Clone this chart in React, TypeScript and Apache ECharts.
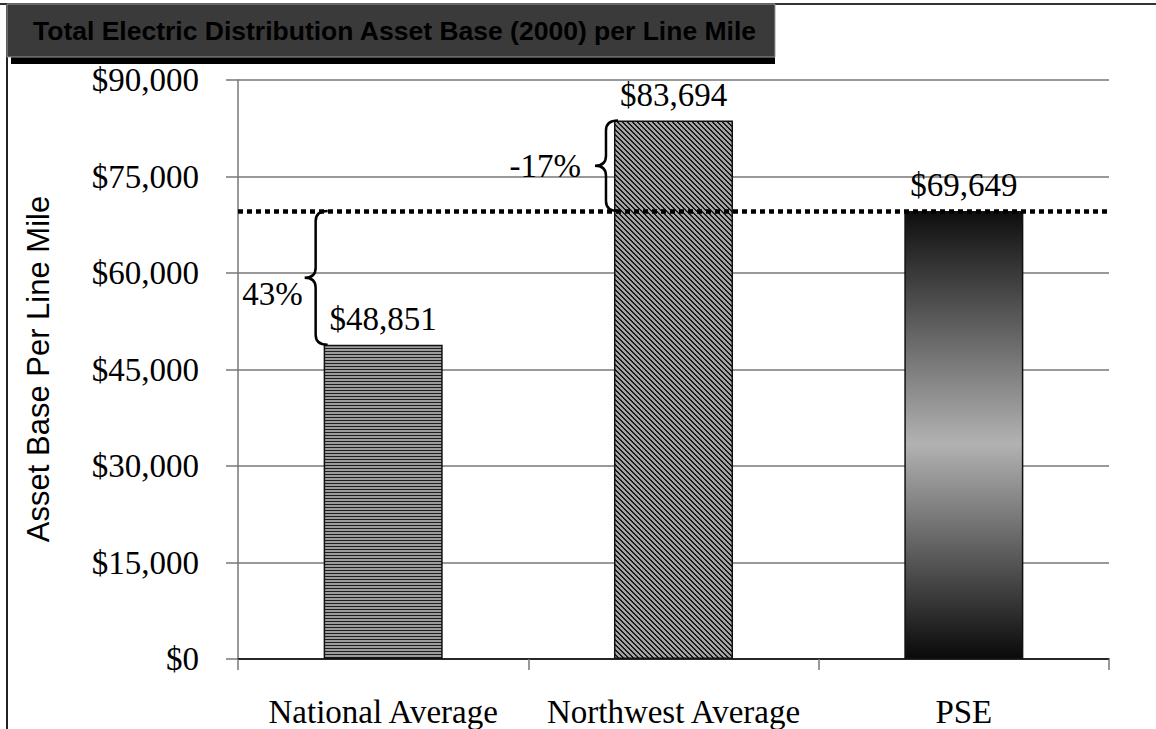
import React, { useEffect, useRef } from "react";
import * as echarts from "echarts";

const categories = ["National Average", "Northwest Average", "PSE"];
const values = [48851, 83694, 69649];
const yMin = 0;
const yMax = 90000;
const yInterval = 15000;
const titleText = "Total Electric Distribution Asset Base (2000) per Line Mile";
const yAxisTitle = "Asset Base Per Line Mile";
// braces: [category index the brace sits beside, from value, to value (reference = PSE)]
const braceRows = [
  [0, values[0], values[2]],
  [1, values[2], values[1]],
];
const braceLabels = braceRows.map((r) => {
  const barVal = r[0] === 0 ? values[0] : values[1];
  return Math.round((values[2] / barVal - 1) * 100) + "%";
});
// label layout offsets (dx, dy from brace tip)
const braceLabelOffsets = [
  [-2, 16],
  [-14, 0],
];

const SERIF = "'Liberation Serif', 'Times New Roman', serif";
const SANS = "'Liberation Sans', Arial, sans-serif";

function makeHStripes(): HTMLCanvasElement {
  const c = document.createElement("canvas");
  c.width = 4;
  c.height = 3;
  const g = c.getContext("2d")!;
  g.fillStyle = "#9c9c9c";
  g.fillRect(0, 0, 4, 3);
  g.fillStyle = "#1e1e1e";
  g.fillRect(0, 0, 4, 1);
  return c;
}

function makeDiagStripes(): HTMLCanvasElement {
  const n = 5;
  const c = document.createElement("canvas");
  c.width = n;
  c.height = n;
  const g = c.getContext("2d")!;
  for (let y = 0; y < n; y++) {
    for (let x = 0; x < n; x++) {
      const k = (((x - y) % n) + n) % n;
      g.fillStyle = k < 2 ? "#1a1a1a" : "#a4a4a4";
      g.fillRect(x, y, 1, 1);
    }
  }
  return c;
}

export default function App() {
  const ref = useRef<HTMLDivElement>(null);
  useEffect(() => {
    if (!ref.current) return;
    const chart = echarts.init(ref.current, null, { renderer: "svg" });
    const h = makeHStripes();
    const d = makeDiagStripes();
    const fills: any[] = [
      { image: h, repeat: "repeat", imageWidth: 4, imageHeight: 3 },
      { image: d, repeat: "repeat", imageWidth: 5, imageHeight: 5 },
      new echarts.graphic.LinearGradient(0, 0, 0, 1, [
        { offset: 0, color: "#0e0e0e" },
        { offset: 0.52, color: "#b2b2b2" },
        { offset: 1, color: "#0a0a0a" },
      ]),
    ];
    const barWidthFrac = 0.41;
    chart.setOption({
      animation: false,
      backgroundColor: "#ffffff",
      grid: { left: 238, right: 47, top: 80, bottom: 70, containLabel: false },
      graphic: [
        { type: "line", shape: { x1: 0, y1: 4, x2: 1156, y2: 4 }, style: { stroke: "#333", lineWidth: 2 }, z: 10 },
        { type: "line", shape: { x1: 7, y1: 4, x2: 7, y2: 729 }, style: { stroke: "#222", lineWidth: 2 }, z: 10 },
        { type: "rect", shape: { x: 11, y: 56, width: 764, height: 8 }, style: { fill: "#000" }, z: 10 },
        { type: "rect", shape: { x: 7, y: 4, width: 768, height: 53 }, style: { fill: "#3a3a3a", stroke: "#999", lineWidth: 1 }, z: 11 },
        {
          type: "text",
          x: 33,
          y: 31,
          style: { text: titleText, font: `bold 26.5px ${SANS}`, fill: "#000", verticalAlign: "middle", align: "left" },
          z: 12,
        },
        {
          type: "text",
          x: 38,
          y: 369,
          rotation: Math.PI / 2,
          style: { text: yAxisTitle, font: `31px ${SANS}`, fill: "#000", verticalAlign: "middle", align: "center" },
          z: 12,
        },
      ],
      xAxis: {
        type: "category",
        data: categories,
        axisLine: { show: true, lineStyle: { color: "#000", width: 1.5 } },
        axisTick: { show: true, length: 11, lineStyle: { color: "#777", width: 1.5 } },
        axisLabel: { color: "#000", fontFamily: SERIF, fontSize: 33, margin: 36, interval: 0, hideOverlap: false },
        splitLine: { show: false },
      },
      yAxis: {
        type: "value",
        min: yMin,
        max: yMax,
        interval: yInterval,
        axisLine: { show: true, lineStyle: { color: "#777", width: 1.5 } },
        axisTick: { show: true, length: 12, lineStyle: { color: "#777", width: 1.5 } },
        axisLabel: {
          color: "#000",
          fontFamily: SERIF,
          fontSize: 33,
          margin: 39,
          formatter: (v: number) => "$" + v.toLocaleString("en-US"),
        },
        splitLine: { show: true, lineStyle: { color: "#777", width: 1.5 } },
      },
      series: [
        {
          type: "bar",
          barWidth: barWidthFrac * 100 + "%",
          data: values.map((v, i) => ({
            value: v,
            itemStyle: { color: fills[i], borderColor: "#111", borderWidth: 1.5 },
          })),
          label: {
            show: true,
            position: "top",
            distance: 9,
            color: "#000",
            fontFamily: SERIF,
            fontSize: 33,
            formatter: (p: any) => "$" + Number(p.value).toLocaleString("en-US"),
          },
          markLine: {
            silent: true,
            symbol: ["none", "none"],
            label: { show: false },
            lineStyle: { color: "#000", width: 4.5, type: [5, 4], opacity: 1 },
            data: [{ yAxis: values[2] }],
            z: 5,
          },
        },
        {
          type: "custom",
          coordinateSystem: "cartesian2d",
          clip: false,
          z: 6,
          data: braceRows,
          encode: { x: 0, y: [1, 2] },
          renderItem: (params: any, api: any) => {
            const cat = api.value(0);
            const v1 = api.value(1);
            const v2 = api.value(2);
            const p1 = api.coord([cat, v1]);
            const p2 = api.coord([cat, v2]);
            const band = api.size([1, 0])[0];
            const x0 = p1[0] - (band * barWidthFrac) / 2 - 8;
            const yt = Math.min(p1[1], p2[1]);
            const yb = Math.max(p1[1], p2[1]);
            const ym = (yt + yb) / 2;
            const r = 10;
            const hook = 12;
            const tip = 11;
            const dpath =
              `M ${x0 + hook} ${yt} Q ${x0} ${yt} ${x0} ${yt + r} L ${x0} ${ym - r} ` +
              `Q ${x0} ${ym} ${x0 - tip} ${ym} Q ${x0} ${ym} ${x0} ${ym + r} ` +
              `L ${x0} ${yb - r} Q ${x0} ${yb} ${x0 + hook} ${yb}`;
            const off = braceLabelOffsets[params.dataIndex];
            return {
              type: "group",
              children: [
                { type: "path", shape: { pathData: dpath }, style: { stroke: "#000", lineWidth: 2.5, fill: null } },
                {
                  type: "text",
                  style: {
                    text: braceLabels[params.dataIndex],
                    x: x0 - tip + off[0],
                    y: ym + off[1],
                    font: `33px ${SERIF}`,
                    fill: "#000",
                    align: "right",
                    verticalAlign: "middle",
                  },
                },
              ],
            };
          },
        },
      ],
    });
    return () => chart.dispose();
  }, []);
  return (
    <div
      ref={ref}
      style={{ position: "fixed", left: 0, top: 0, width: 1156, height: 729, background: "#fff" }}
    />
  );
}
